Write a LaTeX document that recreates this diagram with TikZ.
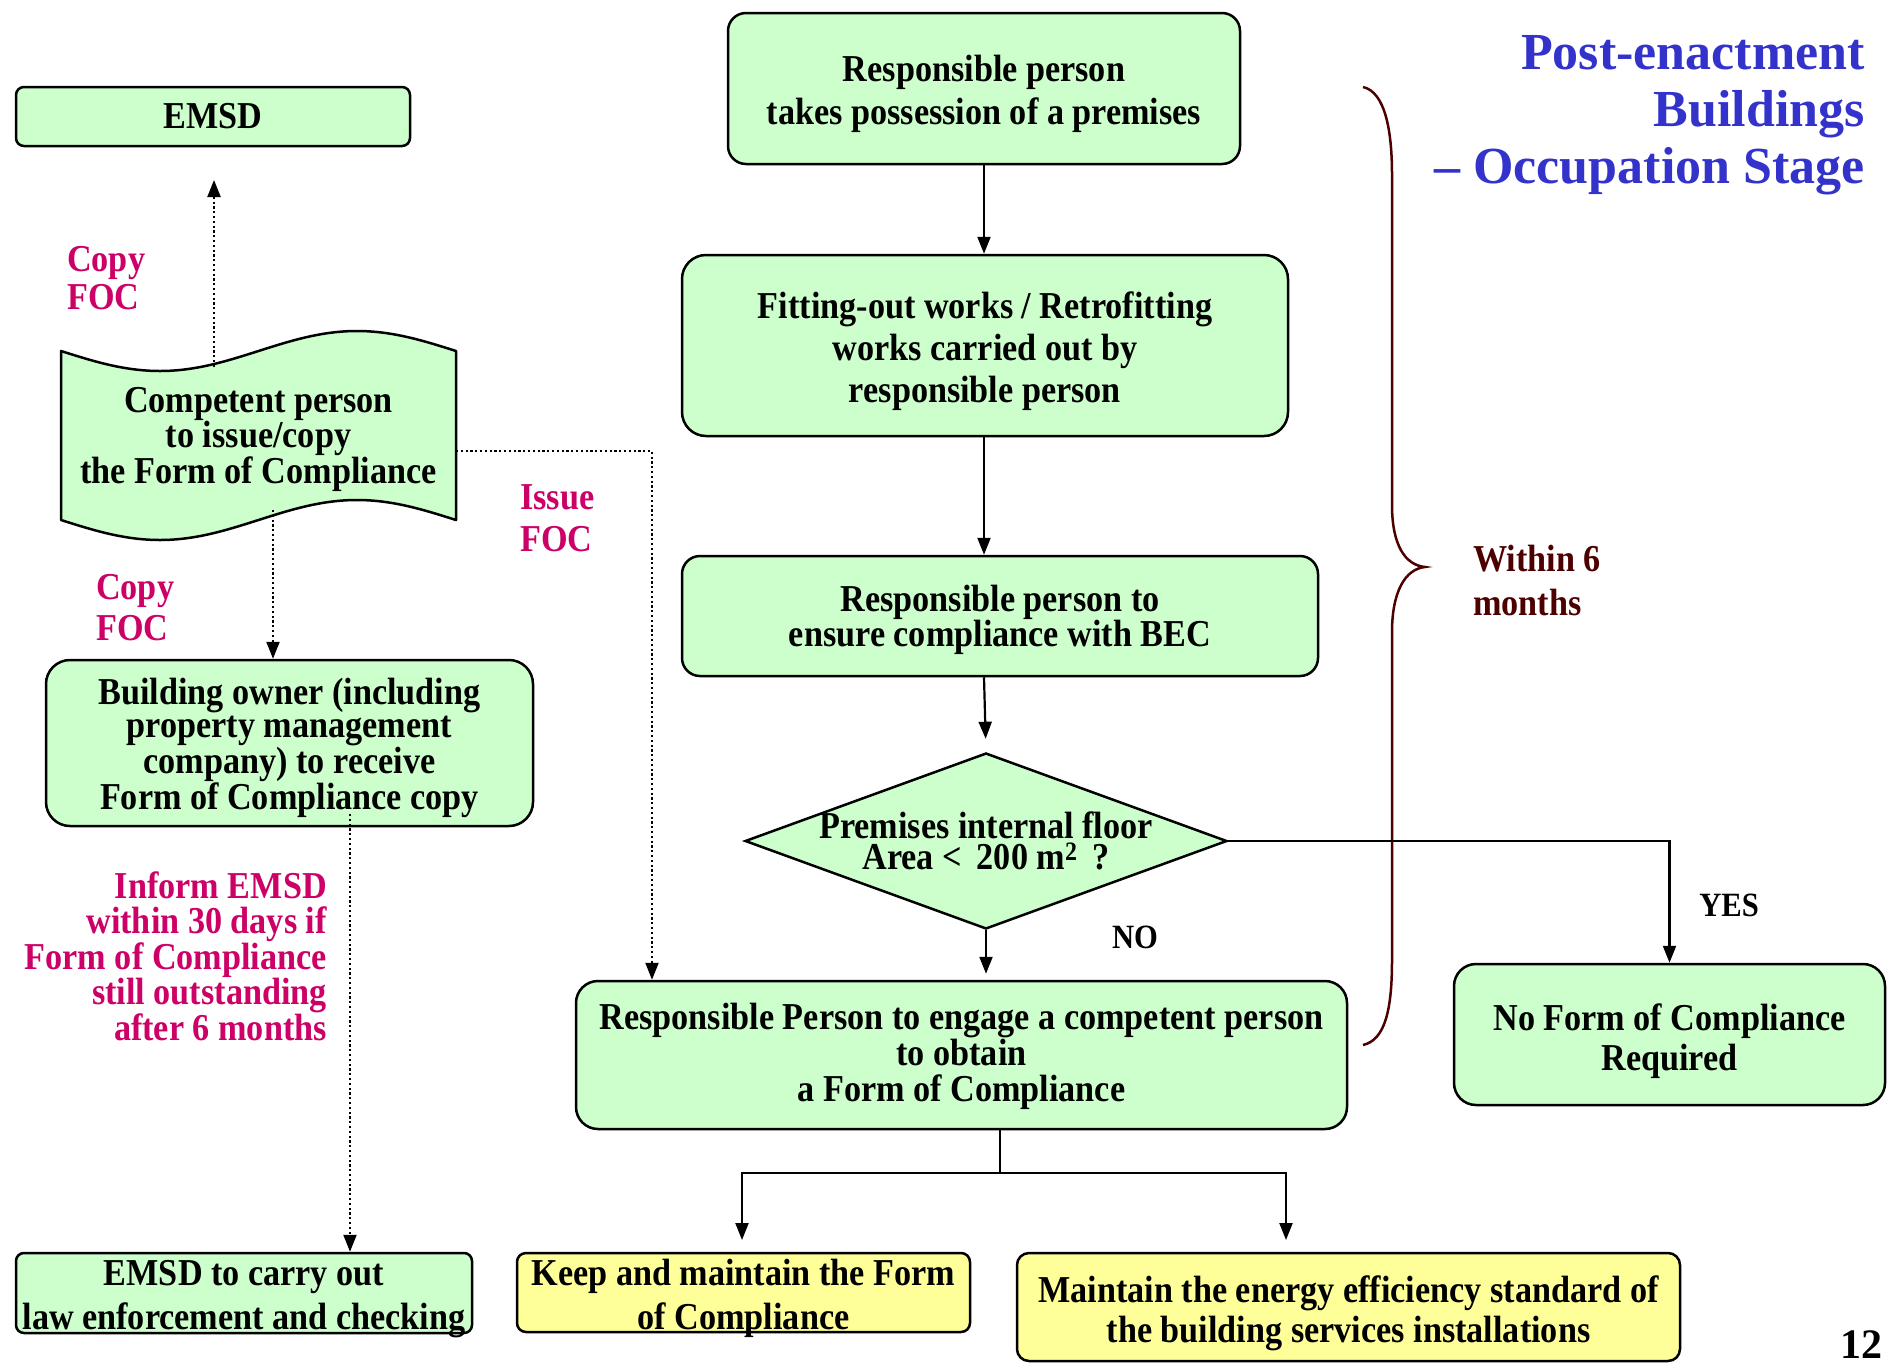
\documentclass[tikz,border=0pt]{standalone}
\usepackage{fontspec}
\setmainfont{Liberation Serif}
\newfontfamily\cond{Liberation Serif}[FakeStretch=0.9]
\newfontfamily\heading{Liberation Serif}
\usetikzlibrary{arrows.meta,shapes.geometric,calc}
\newcommand\bodyfs[2]{\cond\bfseries\fontsize{#1}{#2}\selectfont}
% text of a box: name of the box, downward offset, line skip, text
\newcommand\boxtext[4]{\node[plain, align=center, font=\bodyfs{38}{#3}]
  (#1txt) at ($(#1.center)+(0,#2)$) {#4};}
\definecolor{boxgreen}{HTML}{CCFFCC}
\definecolor{boxyellow}{HTML}{FFFF99}
\definecolor{notepink}{HTML}{CC0066}
\definecolor{titleblue}{HTML}{3333CC}
\definecolor{bracered}{HTML}{4D0000}
\begin{document}
\begin{tikzpicture}[x=1pt,y=-1pt,
  box/.style={draw=black, line width=2.5pt, fill=boxgreen, rounded corners=#1,
              inner sep=0pt},
  box/.default=18pt,
  ybox/.style={box=#1, fill=boxyellow},
  ybox/.default=10pt,
  arr/.style={line width=2.2pt, -{Triangle[width=13pt,length=17pt]}},
  dotarr/.style={line width=2.2pt, dash pattern=on 2.2pt off 2.6pt,
                 -{Triangle[width=13pt,length=17pt]}},
  note/.style={text=notepink, inner sep=0pt},
  plain/.style={inner sep=0pt},
]
\fill[white] (0,0) rectangle (1887,1366);
\useasboundingbox (0,0) rectangle (1887,1366);

% ---------- left column ----------
\node[box=8pt, minimum width=394pt, minimum height=59pt] (emsd) at (213,116.5) {};
\boxtext{emsd}{0}{40}{EMSD}

% punched-tape document
\draw[line width=2.5pt, fill=boxgreen, line join=round]
  (61,351) sin (160,371) cos (258.5,351) sin (357,331) cos (456,351)
  -- (456,520) sin (357,500) cos (258.5,520) sin (160,540) cos (61,520) -- cycle;
\node[plain, minimum width=395pt, minimum height=169pt] (doc) at (258.5,435.5) {};
\boxtext{doc}{4}{33}{Competent person\\to issue/copy\\the Form of Compliance}
\coordinate (docTop) at (214,367);
\coordinate (emsdIn) at (214,180);
\coordinate (docRight) at (456,451);
\coordinate (issueTurn) at (652,451);
\coordinate (docBot) at (273,510);

\node[box=24pt, minimum width=487pt, minimum height=166pt] (owner) at (289.5,743) {};
\boxtext{owner}{5}{33.5}{Building owner (including\\property management\\company) to receive\\Form of Compliance copy}
\coordinate (ownOut) at (350,814);

\node[box=8pt, minimum width=456pt, minimum height=80pt] (enf) at (244,1293) {};
\boxtext{enf}{6}{44}{EMSD to carry out\\law enforcement and checking}

% ---------- main column ----------
\node[box=18pt, minimum width=512pt, minimum height=151pt] (A) at (984,88.5) {};
\boxtext{A}{5}{43}{Responsible person\\takes possession of a premises}
\node[box=24pt, minimum width=606pt, minimum height=181pt] (B) at (985,345.5) {};
\boxtext{B}{5.5}{42}{Fitting-out works / Retrofitting\\works carried out by\\responsible person}
\node[box=18pt, minimum width=636pt, minimum height=120pt] (C) at (1000,616) {};
\boxtext{C}{3.5}{35}{Responsible person to\\ensure compliance with BEC}
\node[diamond, draw=black, line width=2.5pt, fill=boxgreen, inner sep=0pt,
      minimum width=482pt, minimum height=176pt] (q) at (986,841) {};
\boxtext{q}{0}{30.5}{Premises internal floor\\Area <\, 200 m\textsuperscript{2}\, ?}
\node[box=22pt, minimum width=771pt, minimum height=148pt] (D) at (961.5,1055) {};
\boxtext{D}{1.5}{36}{Responsible Person to engage a competent person\\to obtain\\a Form of Compliance}
\node[box=22pt, minimum width=431pt, minimum height=141pt] (E) at (1669.5,1034.5) {};
\boxtext{E}{7}{40}{No Form of Compliance\\Required}
\node[ybox=9pt, minimum width=453pt, minimum height=79pt] (F) at (743.5,1292.5) {};
\boxtext{F}{6}{44}{Keep and maintain the Form\\of Compliance}
\node[ybox=12pt, minimum width=663pt, minimum height=108pt] (G) at (1348.5,1307) {};
\boxtext{G}{6}{40}{Maintain the energy efficiency standard of\\the building services installations}

\coordinate (split) at (1000,1173);
\coordinate (fIn) at (742,1240);
\coordinate (gIn) at (1286,1240);

% ---------- brace ----------
\draw[bracered, line width=2.5pt]
  (1363,87) .. controls (1385,92) and (1392,130) .. (1392,175)
  -- (1392,505) .. controls (1392,545) and (1405,565) .. (1425,567)
  .. controls (1405,569) and (1392,592) .. (1392,632)
  -- (1392,960) .. controls (1392,1010) and (1385,1040) .. (1363,1045);

% ---------- connectors ----------
\draw[dotarr] (docTop) -- (emsdIn);
\draw[dotarr] (docRight) -- (issueTurn) -- (issueTurn |- D.north);
\draw[dotarr] (docBot) -- (docBot |- owner.north);
\draw[dotarr] (ownOut) -- (ownOut |- enf.north);

\draw[arr] (A.south) -- (A.south |- B.north);
\draw[arr] (A.south |- B.south) -- (A.south |- C.north);
\draw[arr, shorten >=13pt] (A.south |- C.south) -- (q.north);
\draw[arr, shorten >=6pt] (q.south) -- (q.south |- D.north);
\draw[arr] (q.east) -- (q.east -| E.north) -- (E.north);
\draw[line width=2.2pt] (D.south -| split) -- (split);
\draw[arr] (split) -| (fIn);
\draw[arr] (split) -| (gIn);

% ---------- labels ----------
\node[note, anchor=west, align=left, font=\bodyfs{38}{38}] (copyA) at (67,278) {Copy\\FOC};
\node[note, anchor=west, align=left, font=\bodyfs{38}{42}] (issue) at (520,518) {Issue\\FOC};
\node[note, anchor=west, align=left, font=\bodyfs{38}{41}] (copyB) at (96,608) {Copy\\FOC};
\node[note, anchor=east, align=right, font=\bodyfs{38}{35.5}] (inform) at (327,956)
  {Inform EMSD\\within 30 days if\\Form of Compliance\\still outstanding\\after 6 months};
\node[plain, text=bracered, anchor=west, align=left, font=\bodyfs{38}{44}] (within) at (1473,580)
  {Within 6\\months};
\node[plain, font=\bodyfs{34}{36}] (no) at (1135,937) {NO};
\node[plain, font=\bodyfs{34}{36}] (yes) at (1729,905) {YES};
\node[plain, anchor=east, align=right, text=titleblue,
      font=\heading\bfseries\fontsize{52}{57}\selectfont] (title) at (1865,115)
  {Post-enactment\\Buildings\\– Occupation Stage};
\node[plain, font=\heading\bfseries\fontsize{42}{44}\selectfont] (page) at (1861,1345) {12};
\end{tikzpicture}
\end{document}
